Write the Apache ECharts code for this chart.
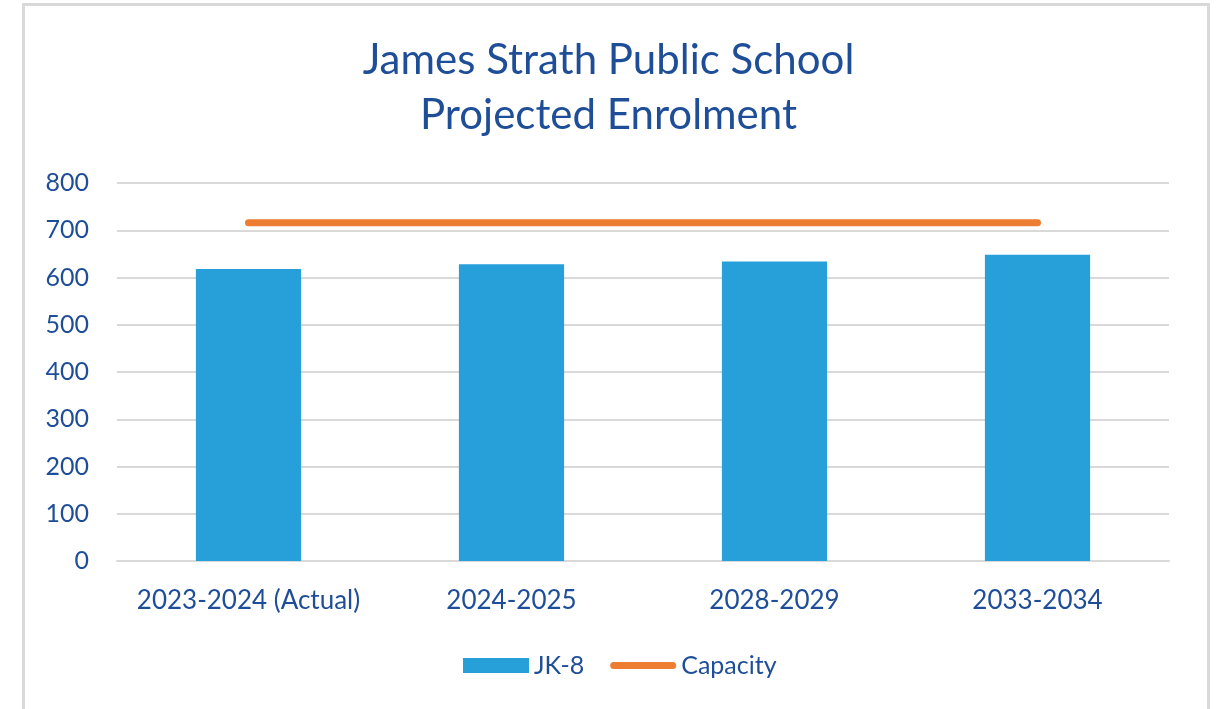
<!DOCTYPE html>
<html>
<head>
<meta charset="utf-8">
<script src="https://cdn.jsdelivr.net/npm/echarts@6/dist/echarts.min.js"></script>
<style>
  html, body { margin: 0; padding: 0; background: #fff; }
  #chart { position: absolute; left: 0; top: 0; width: 1217px; height: 709px; }
  #frame {
    position: absolute; left: 22px; top: 3px; width: 1182px; height: 760px;
    border: 3px solid #d9d9d9; pointer-events: none;
  }
</style>
</head>
<body>
<div id="chart"></div>
<div id="frame"></div>
<script>
const categories = ["2023-2024 (Actual)", "2024-2025", "2028-2029", "2033-2034"];
const enrolment = [618, 628, 634, 648];
const capacity = [716, 716, 716, 716];

const textColor = "#1f4e99";
const font = "Lato, 'Open Sans', sans-serif";

const chart = echarts.init(document.getElementById("chart"));

chart.setOption({
  animation: false,
  title: {
    text: "James Strath Public School\nProjected Enrolment",
    left: "center",
    top: 28,
    textStyle: {
      color: textColor,
      fontFamily: font,
      fontWeight: "normal",
      fontSize: 42,
      lineHeight: 55,
    },
  },
  legend: {
    left: 458,
    top: 648,
    itemGap: 26,
    itemWidth: 66,
    itemHeight: 15,
    textStyle: { color: textColor, fontFamily: font, fontSize: 25 },
    data: [
      { name: "JK-8", icon: "rect" },
      {
        name: "Capacity",
        icon: "path://M0,0 M3.5,4 L62.5,4 A3.5,3.5 0 0 1 62.5,11 L3.5,11 A3.5,3.5 0 0 1 3.5,4 Z M66,15",
      },
    ],
  },
  grid: {
    left: 117,
    right: 48,
    top: 183,
    bottom: 148,
  },
  xAxis: {
    type: "category",
    data: categories,
    axisTick: { show: false },
    axisLine: { lineStyle: { color: "#d9d9d9", width: 2 } },
    axisLabel: {
      interval: 0,
      color: textColor,
      fontFamily: font,
      fontSize: 26,
      margin: 27,
    },
  },
  yAxis: {
    type: "value",
    min: 0,
    max: 800,
    interval: 100,
    axisLine: { show: false },
    axisTick: { show: false },
    splitLine: { lineStyle: { color: "#d9d9d9", width: 2 } },
    axisLabel: {
      color: textColor,
      fontFamily: font,
      fontSize: 25,
      margin: 28,
    },
  },
  series: [
    {
      name: "JK-8",
      type: "bar",
      data: enrolment,
      barWidth: "40%",
      itemStyle: { color: "#279fd9" },
    },
    {
      name: "Capacity",
      type: "line",
      data: capacity,
      symbol: "none",
      z: 3,
      itemStyle: { color: "#ed7d31" },
      lineStyle: { color: "#ed7d31", width: 7, cap: "round" },
    },
  ],
});
</script>
</body>
</html>
